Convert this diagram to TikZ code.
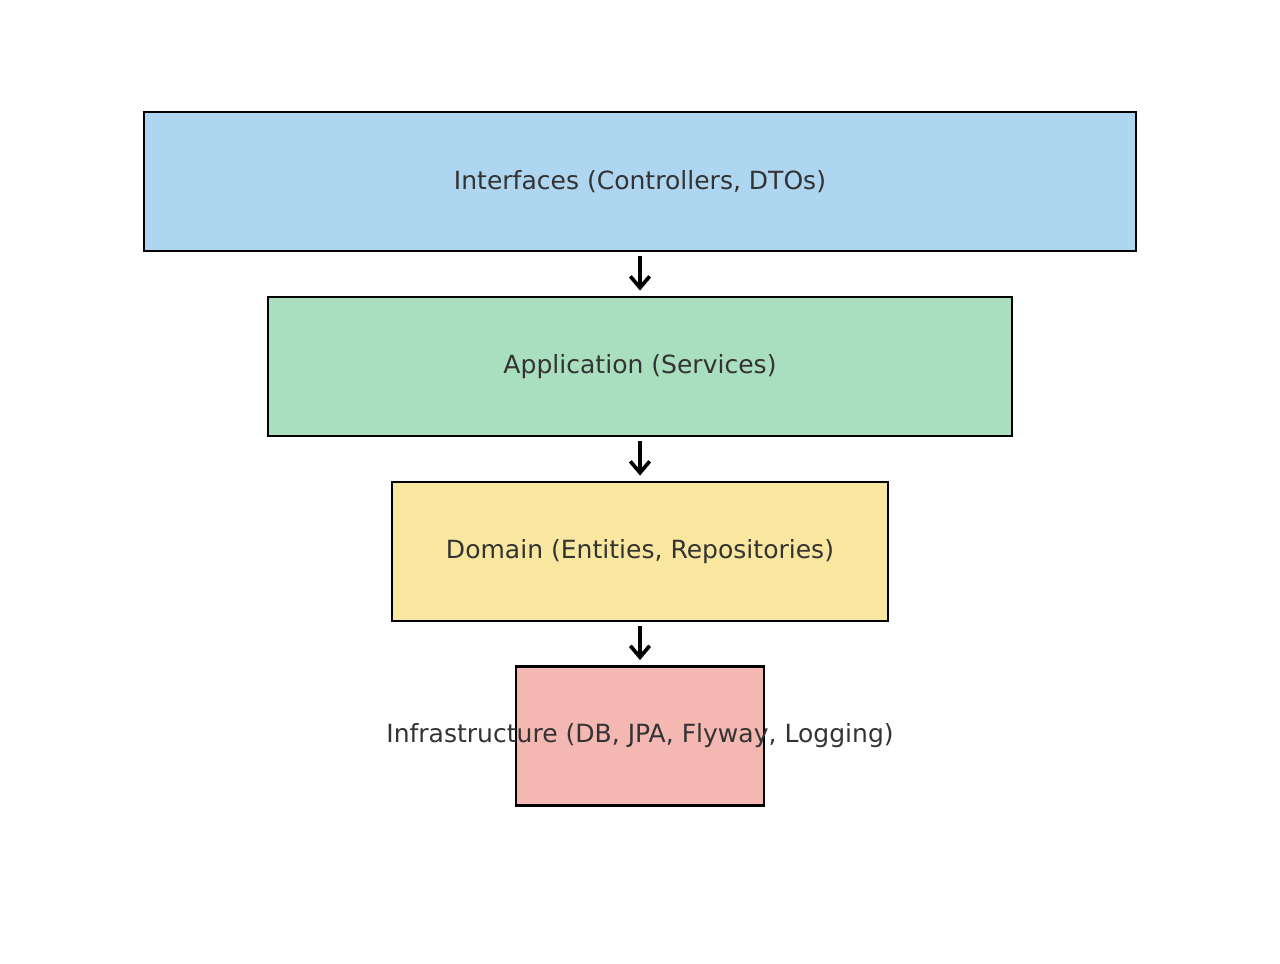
\documentclass[tikz,border=0pt]{standalone}
\usepackage{fontspec}
\setmainfont{DejaVu Sans}
\usetikzlibrary{arrows.meta}
\definecolor{lagtekst}{HTML}{333333}
\definecolor{lagbla}{HTML}{AED6F1}
\definecolor{laggronn}{HTML}{A9DFBF}
\definecolor{laggul}{HTML}{F9E79F}
\definecolor{lagrod}{HTML}{F5B7B1}
\tikzset{
  lag/.style={draw=black, line width=1.6pt, minimum height=2.78cm, inner sep=0pt},
  lagnavn/.style={text=lagtekst, font=\fontsize{14.25}{17}\selectfont},
  pil/.style={line width=2.1pt, -{Straight Barb[length=6.5pt,width=11pt]}, shorten <=0.08cm, shorten >=0.1cm}
}
\begin{document}
\begin{tikzpicture}
        \useasboundingbox (0,0) rectangle (25.6,19.28);
        % Lag
        \node[lag, fill=lagbla,   minimum width=19.84cm] (interfaces)     at (12.8,15.65) {};
        \node[lag, fill=laggronn, minimum width=14.88cm] (application)    at (12.8,11.95) {};
        \node[lag, fill=laggul,   minimum width=9.92cm]  (domain)         at (12.8,8.25)  {};
        \node[lag, fill=lagrod,   minimum width=4.96cm]  (infrastructure) at (12.8,4.56)  {};

        \node[lagnavn] (interfacestekst)     at (interfaces)     {Interfaces (Controllers, DTOs)};
        \node[lagnavn] (applicationtekst)    at (application)    {Application (Services)};
        \node[lagnavn] (domaintekst)         at (domain)         {Domain (Entities, Repositories)};
        \node[lagnavn] (infrastructuretekst) at (infrastructure) {Infrastructure (DB, JPA, Flyway, Logging)};

        % Piler
        \draw[pil] (interfaces.south)  -- (application.north);
        \draw[pil] (application.south) -- (domain.north);
        \draw[pil] (domain.south)      -- (infrastructure.north);
    \end{tikzpicture}
\end{document}
